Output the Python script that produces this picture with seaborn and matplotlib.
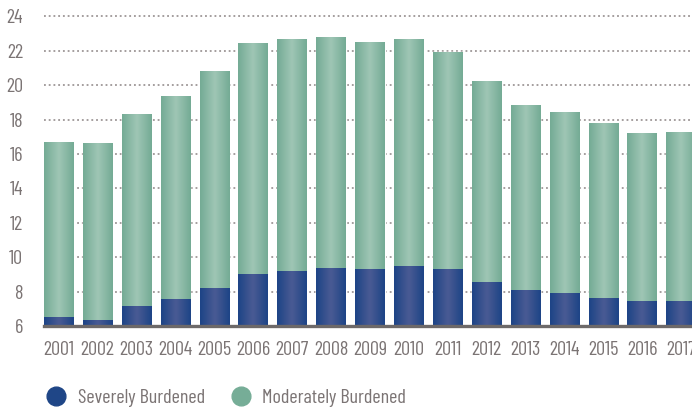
import matplotlib
matplotlib.use("Agg")
import matplotlib.pyplot as plt
from matplotlib.colors import LinearSegmentedColormap
from matplotlib.lines import Line2D
import numpy as np
import pandas as pd
import seaborn as sns

sns.set_theme(style="white")
plt.rcParams["font.family"] = ["Barlow Condensed", "DejaVu Sans"]

# values
years = [str(y) for y in range(2001, 2018)]
severe = [6.52, 6.35, 7.15, 7.55, 8.23, 9.0, 9.17, 9.4, 9.34, 9.5, 9.34,
          8.53, 8.08, 7.9, 7.6, 7.48, 7.48]
moderate = [10.2, 10.3, 11.17, 11.81, 12.62, 13.47, 13.53, 13.41, 13.18,
            13.2, 12.61, 11.69, 10.76, 10.53, 10.2, 9.74, 9.79]
yticks = [6, 8, 10, 12, 14, 16, 18, 20, 22, 24]
labels = ["Severely Burdened", "Moderately Burdened"]

df = pd.DataFrame({"year": years, "severe": severe, "moderate": moderate})
df["total"] = df["severe"] + df["moderate"]

text_col = "#7b7474"
blue = "#1f4687"
green = "#76ad97"
blue_cmap = LinearSegmentedColormap.from_list("b", ["#1d4486", "#4a5b94", "#1d4486"])
green_cmap = LinearSegmentedColormap.from_list("g", ["#74ab95", "#9fc6b5", "#74ab95"])

fig = plt.figure(figsize=(6.92, 4.12), dpi=100)
ax = fig.add_axes([44 / 692, 1 - 326 / 412, 1 - 44 / 692, 313 / 412])

sns.barplot(data=df, x="year", y="total", color=green, width=0.76,
            saturation=1, ax=ax)
n_tot = len(ax.patches)
sns.barplot(data=df, x="year", y="severe", color=blue, width=0.76,
            saturation=1, ax=ax)

ymin, ymax = 6, 24.2

# horizontal gradient fill inside each bar (only the visible part)
grad = np.linspace(0, 1, 64).reshape(1, -1)
for i, p in enumerate(ax.patches):
    cmap = green_cmap if i < n_tot else blue_cmap
    x0, y0 = p.get_x(), max(p.get_y(), ymin)
    w, top = p.get_width(), p.get_y() + p.get_height()
    im = ax.imshow(grad, cmap=cmap, aspect="auto", extent=(x0, x0 + w, y0, top),
                   zorder=p.get_zorder() + 0.1, interpolation="bicubic")
    im.set_clip_path(p)

ax.set_xlim(-0.38, 16.28)
ax.set_ylim(ymin, ymax)
ax.set_yticks(yticks)
ax.set_axisbelow(True)
ax.yaxis.grid(True, color="#8c8484", linestyle=(0, (1.2, 1.9)), linewidth=1.1)
ax.xaxis.grid(False)

for s in ["top", "right", "left"]:
    ax.spines[s].set_visible(False)
ax.spines["bottom"].set_color("#6d6969")
ax.spines["bottom"].set_linewidth(2.4)
ax.spines["bottom"].set_zorder(5)

ax.tick_params(axis="y", length=0, pad=15, labelsize=14.5, labelcolor=text_col)
ax.tick_params(axis="x", length=0, pad=11, labelsize=14.5, labelcolor=text_col)
ax.set_xlabel("")
ax.set_ylabel("")

handles = [Line2D([], [], marker="o", linestyle="none", markersize=13.5,
                  markerfacecolor=c, markeredgecolor=c) for c in [blue, green]]
fig.legend(handles, labels, loc="center left", bbox_to_anchor=(0.067, 1 - 398 / 412),
           ncol=2, frameon=False, fontsize=14.5, labelcolor=text_col,
           handlelength=1.0, handletextpad=0.55, columnspacing=1.3,
           borderpad=0, borderaxespad=0)

fig.savefig("out.png", dpi=100)
